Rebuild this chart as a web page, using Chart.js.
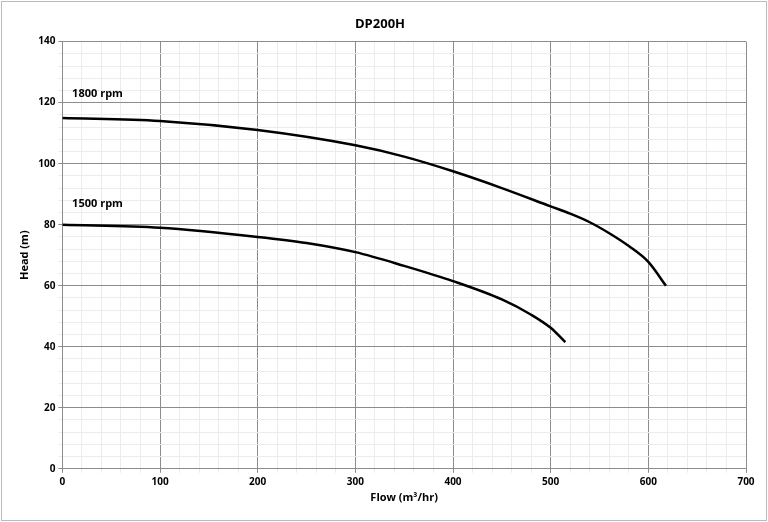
<!DOCTYPE html>
<html>
<head>
<script src="https://cdn.jsdelivr.net/npm/chart.js@4"></script>
<style>
body{margin:0;background:#fff}
#wrap{position:absolute;left:1px;top:1px;width:764px;height:518px;border:1px solid #bbb}
</style>
</head>
<body>
<div id="wrap"><canvas id="chart"></canvas></div>
<script>
// curve data
const flow1800 = [0, 100, 200, 300, 350, 400, 450, 500, 520, 540, 560, 580, 600, 618];
const head1800 = [115, 114, 111, 106, 102.3, 97.5, 92, 86, 83.6, 80.8, 77.2, 73, 67.8, 60];
const flow1500 = [0, 100, 200, 250, 300, 350, 400, 450, 480, 500, 515];
const head1500 = [80, 79, 76, 74, 71, 66.5, 61.5, 55.5, 50.5, 46.2, 41.5];
const curveLabels = [{text: '1800 rpm', x: 10, y: 121}, {text: '1500 rpm', x: 10, y: 85}];

const pts = (xs, ys) => xs.map((x, i) => ({x: x, y: ys[i]}));
const font = "'Open Sans', sans-serif";

const curveText = {
  id: 'curveText',
  afterDatasetsDraw(chart) {
    const ctx = chart.ctx;
    ctx.save();
    ctx.font = 'bold 11px ' + font;
    ctx.fillStyle = '#000';
    ctx.textBaseline = 'bottom';
    curveLabels.forEach(l => {
      ctx.fillText(l.text, chart.scales.x.getPixelForValue(l.x), chart.scales.y.getPixelForValue(l.y));
    });
    ctx.restore();
  }
};

new Chart(document.getElementById('chart'), {
  type: 'scatter',
  data: {
    datasets: [
      {data: pts(flow1800, head1800), showLine: true, borderColor: '#000', borderWidth: 2.5, pointRadius: 0, cubicInterpolationMode: 'monotone'},
      {data: pts(flow1500, head1500), showLine: true, borderColor: '#000', borderWidth: 2.5, pointRadius: 0, cubicInterpolationMode: 'monotone'}
    ]
  },
  options: {
    responsive: true,
    maintainAspectRatio: false,
    animation: false,
    layout: {padding: {left: 12, right: 20, top: 8, bottom: 16}},
    plugins: {
      legend: {display: false},
      tooltip: {enabled: false},
      title: {display: true, text: 'DP200H', color: '#000', font: {family: font, size: 13, weight: 'bold'}, padding: {top: 6, bottom: 10}}
    },
    scales: {
      x: {
        min: 0, max: 700,
        ticks: {stepSize: 20, autoSkip: false, maxRotation: 0, color: '#000', font: {family: font, size: 10, weight: 'bold'},
          callback: v => v % 100 === 0 ? v : ''},
        grid: {color: c => c.tick.value % 100 === 0 ? '#8c8c8c' : '#ececec', tickLength: 4},
        border: {color: '#8c8c8c'},
        title: {display: true, text: 'Flow (m³/hr)', color: '#000', font: {family: font, size: 11, weight: 'bold'}, padding: 0}
      },
      y: {
        min: 0, max: 140,
        ticks: {stepSize: 4, autoSkip: false, color: '#000', font: {family: font, size: 10, weight: 'bold'},
          callback: v => v % 20 === 0 ? v : ''},
        grid: {color: c => c.tick.value % 20 === 0 ? '#8c8c8c' : '#ececec', tickLength: 4},
        border: {color: '#8c8c8c'},
        title: {display: true, text: 'Head (m)', color: '#000', font: {family: font, size: 11, weight: 'bold'}, padding: 4}
      }
    }
  },
  plugins: [curveText]
});
</script>
</body>
</html>
